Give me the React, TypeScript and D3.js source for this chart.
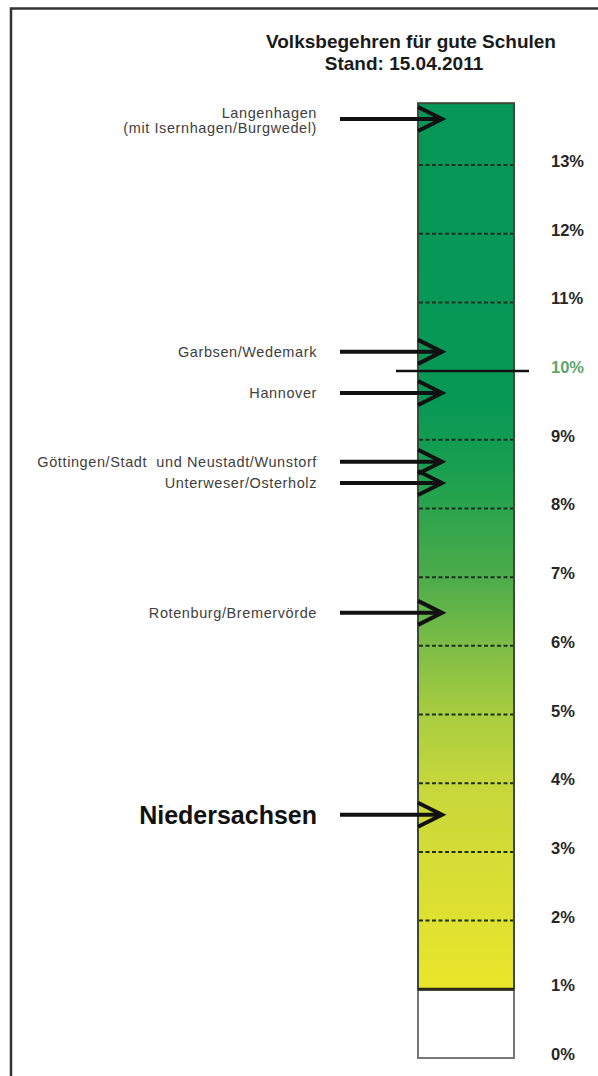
import * as d3 from 'd3'

const tickValues = [0, 1, 2, 3, 4, 5, 6, 7, 8, 9, 10, 11, 12, 13]
const tickLabels = ['0%', '1%', '2%', '3%', '4%', '5%', '6%', '7%', '8%', '9%', '10%', '11%', '12%', '13%']
const barMax = 13.9
const threshold = 10 // solid line, 10% quorum
const baseline = 1 // white part below 1%

const districts = [
  'Langenhagen|(mit Isernhagen/Burgwedel)',
  'Garbsen/Wedemark',
  'Hannover',
  'Göttingen/Stadt  und Neustadt/Wunstorf',
  'Unterweser/Osterholz',
  'Rotenburg/Bremervörde',
  'Niedersachsen',
]
const districtValues = [13.67, 10.28, 9.68, 8.68, 8.37, 6.48, 3.54]

const gradientStops = [1, 2, 3, 4, 5, 6, 7, 8.5, 9.5, 13.9]
const gradientColors = ['#e9e52a', '#dfe130', '#d4dc36', '#c6d73b', '#a9cd40', '#7dbd46', '#4cac4a', '#1ba04f', '#089855', '#069758']

export default function App() {
  const width = 598
  const height = 1076
  const barLeft = 418
  const barRight = 514
  const arrowStart = 340
  const arrowTip = 442
  const labelRight = 317

  const y = d3.scaleLinear([0, 13], [1058, 165])
  const font = '"Liberation Sans", Arial, sans-serif'

  return (
    <svg width={width} height={height} style={{position: 'absolute', left: 0, top: 0, background: '#fff'}}>
      <defs>
        <linearGradient id="barGrad" gradientUnits="userSpaceOnUse" x1={0} x2={0} y1={y(baseline)} y2={y(barMax)}>
          {gradientStops.map((s, i) => (
            <stop key={i} offset={(s - baseline) / (barMax - baseline)} stopColor={gradientColors[i]} />
          ))}
        </linearGradient>
      </defs>

      {/* frame */}
      <path d={`M11,${height} L11,8.5 L${width},8.5`} fill="none" stroke="#333" strokeWidth={2.5} />

      {/* title */}
      <text x={411} y={48} textAnchor="middle" fontFamily={font} fontWeight="bold" fontSize={19} fill="#1a1a1a">
        Volksbegehren für gute Schulen
      </text>
      <text x={404} y={70} textAnchor="middle" fontFamily={font} fontWeight="bold" fontSize={19} fill="#1a1a1a">
        Stand: 15.04.2011
      </text>

      {/* bar */}
      <rect x={barLeft} y={y(baseline)} width={barRight - barLeft} height={y(0) - y(baseline)} fill="#fff" stroke="#777" strokeWidth={2} />
      <rect x={barLeft} y={y(barMax)} width={barRight - barLeft} height={y(baseline) - y(barMax)} fill="url(#barGrad)" stroke="#3d4a35" strokeWidth={2} />

      {tickValues.filter(v => v > baseline && v !== threshold).map(v => (
        <line key={v} x1={barLeft + 1} x2={barRight - 1} y1={y(v)} y2={y(v)} stroke="#1d3320" strokeWidth={2} strokeDasharray="4,2.5" />
      ))}
      <line x1={barLeft} x2={barRight} y1={y(baseline)} y2={y(baseline)} stroke="#2a2a1a" strokeWidth={3} />
      <line x1={396} x2={529} y1={y(threshold)} y2={y(threshold)} stroke="#111" strokeWidth={2.5} />

      {/* tick labels */}
      {tickValues.map((v, i) => (
        <text key={v} x={551} y={y(v) + 2} fontFamily={font} fontWeight="bold" fontSize={16.5}
              fill={v === threshold ? '#5ea66e' : '#262626'}>
          {tickLabels[i]}
        </text>
      ))}

      {/* arrows and labels */}
      {districts.map((name, i) => {
        const ay = y(districtValues[i])
        const lines = name.split('|')
        const big = name === 'Niedersachsen'
        return (
          <g key={name}>
            <line x1={arrowStart} x2={arrowTip - 2} y1={ay} y2={ay} stroke="#111" strokeWidth={4} />
            <path d={`M${arrowTip - 24},${ay - 12} L${arrowTip},${ay} L${arrowTip - 24},${ay + 12}`} fill="none" stroke="#111" strokeWidth={4} strokeLinejoin="miter" />
            {lines.map((t, j) => (
              <text key={j} x={labelRight} y={ay + (lines.length > 1 ? (j === 0 ? -6 : 9) : 0)} dy="0.35em" textAnchor="end"
                    fontFamily={font} fontWeight={big ? 'bold' : 'normal'} fontSize={big ? 25 : 14.5}
                    fill={big ? '#111' : '#404040'} letterSpacing={big ? 0 : 0.6}
                    style={{whiteSpace: 'pre'}}>
                {t}
              </text>
            ))}
          </g>
        )
      })}
    </svg>
  )
}
